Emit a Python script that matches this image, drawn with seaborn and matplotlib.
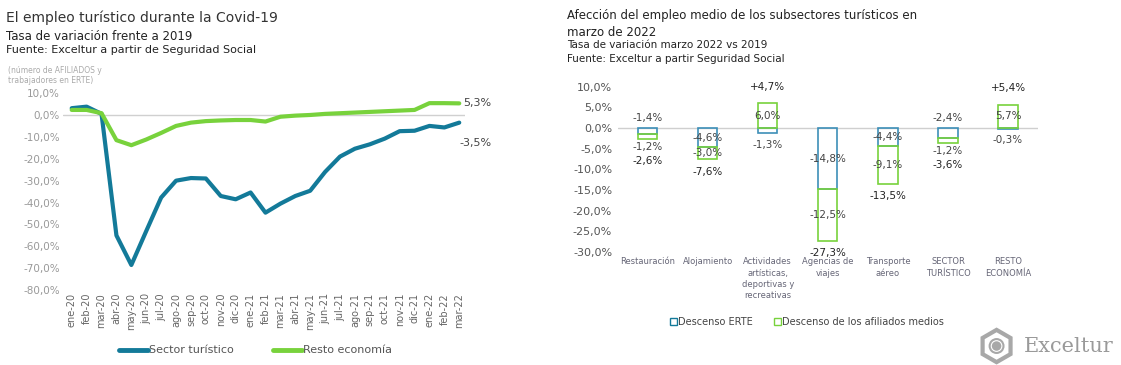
import numpy as np
import pandas as pd
import matplotlib.pyplot as plt
import seaborn as sns
from matplotlib.lines import Line2D
from matplotlib.patches import Patch, RegularPolygon, Circle

# Data - left chart (monthly variation vs 2019, %)
months = ["ene-20", "feb-20", "mar-20", "abr-20", "may-20", "jun-20", "jul-20",
          "ago-20", "sep-20", "oct-20", "nov-20", "dic-20", "ene-21", "feb-21",
          "mar-21", "abr-21", "may-21", "jun-21", "jul-21", "ago-21", "sep-21",
          "oct-21", "nov-21", "dic-21", "ene-22", "feb-22", "mar-22"]
sector_turistico = [3.1, 3.8, 0.5, -55.0, -68.5, -53.0, -37.7, -30.0, -28.8, -29.0,
                    -37.0, -38.5, -35.4, -44.6, -40.5, -37.0, -34.6, -26.0, -19.0,
                    -15.4, -13.4, -10.8, -7.4, -7.2, -5.0, -5.7, -3.5]
resto_economia = [2.3, 2.3, 0.8, -11.5, -13.8, -11.2, -8.2, -5.0, -3.5, -2.8, -2.5,
                  -2.3, -2.3, -3.0, -0.8, -0.3, 0.0, 0.5, 0.8, 1.1, 1.4, 1.7, 2.0,
                  2.3, 5.4, 5.4, 5.3]

# Data - right chart (marzo 2022 vs 2019, %)
subsectores = ["Restauración", "Alojamiento", "Actividades\nartísticas,\ndeportivas y\nrecreativas",
               "Agencias de\nviajes", "Transporte\naéreo", "SECTOR\nTURÍSTICO", "RESTO\nECONOMÍA"]
descenso_erte = [-1.4, -4.6, -1.3, -14.8, -4.4, -2.4, -0.3]
descenso_afiliados = [-1.2, -3.0, 6.0, -12.5, -9.1, -1.2, 5.7]
total = [-2.6, -7.6, 4.7, -27.3, -13.5, -3.6, 5.4]

BLUE = "#137a99"
GREEN = "#78d23c"
BAR_BLUE = "#3d8fb8"


def pct(v, signed=False):
    s = f"{v:+.1f}%" if signed else f"{v:.1f}%"
    return s.replace(".", ",")


sns.set_style("white")
plt.rcParams['font.family'] = ['DejaVu Sans']

fig = plt.figure(figsize=(11.21, 3.65), dpi=100)

# ---------------- Left chart ----------------
ax1 = fig.add_axes([0.056, 0.205, 0.359, 0.54])
x = np.arange(len(months))
sns.lineplot(x=x, y=sector_turistico, color=BLUE, linewidth=3, ax=ax1)
sns.lineplot(x=x, y=resto_economia, color=GREEN, linewidth=3, ax=ax1)
ax1.axhline(0, color="#d0d0d0", linewidth=1, zorder=0)
ax1.set_xlim(-0.6, 26.4)
ax1.set_ylim(-80, 10)
ax1.set_yticks(np.arange(-80, 11, 10))
ax1.set_yticklabels([pct(v) for v in np.arange(-80, 11, 10)], fontsize=7.5, color="#999999")
ax1.set_xticks(x)
ax1.set_xticklabels(months, rotation=90, fontsize=7, color="#666666")
ax1.tick_params(length=0, pad=2)
for s in ax1.spines.values():
    s.set_visible(False)

ax1.annotate(pct(resto_economia[-1]), (x[-1], resto_economia[-1]), xytext=(3, 0),
             textcoords="offset points", ha="left", va="center", fontsize=8, color="#444444")
ax1.annotate(pct(sector_turistico[-1]), (x[-1], sector_turistico[-1]), xytext=(0, -15),
             textcoords="offset points", ha="left", va="center", fontsize=8, color="#444444")

fig.legend(handles=[Line2D([], [], color=BLUE, lw=3.5, label="Sector turístico"),
                    Line2D([], [], color=GREEN, lw=3.5, label="Resto economía")],
           loc="center", bbox_to_anchor=(0.228, 0.04), ncol=2, frameon=False,
           fontsize=8, handlelength=2.6, handletextpad=0.1, columnspacing=3.5,
           labelcolor="#555555")

fig.text(0.005, 0.972, "El empleo turístico durante la Covid-19", fontsize=10, color="#333333", va="top")
fig.text(0.005, 0.918, "Tasa de variación frente a 2019", fontsize=8.5, color="#222222", va="top")
fig.text(0.005, 0.877, "Fuente: Exceltur a partir de Seguridad Social", fontsize=8, color="#222222", va="top")
fig.text(0.007, 0.82, "(número de AFILIADOS y\ntrabajadores en ERTE)", fontsize=5.5,
         color="#aaaaaa", va="top", linespacing=1.2)

# ---------------- Right chart ----------------
ax2 = fig.add_axes([0.551, 0.31, 0.375, 0.452])
pos = np.arange(len(subsectores))
sns.barplot(x=pos, y=descenso_erte, fill=False, color=BAR_BLUE, width=0.32,
            errorbar=None, linewidth=1.2, ax=ax2)
bottoms = [e if a < 0 else 0 for e, a in zip(descenso_erte, descenso_afiliados)]
ax2.bar(pos, descenso_afiliados, bottom=bottoms, width=0.32, facecolor="none",
        edgecolor=GREEN, linewidth=1.2)
ax2.axhline(0, color="#cfcfcf", linewidth=1, zorder=0)
ax2.set_xlim(-0.5, 6.5)
ax2.set_ylim(-30, 10)
yt = np.arange(-30, 11, 5)
ax2.set_yticks(yt)
ax2.set_yticklabels([pct(v) for v in yt], fontsize=8, color="#555555")
ax2.set_xticks(pos)
ax2.set_xticklabels(subsectores, fontsize=6, color="#666677", linespacing=1.3, va="top")
ax2.tick_params(length=0, pad=4)
for s in ax2.spines.values():
    s.set_visible(False)

for i in pos:
    e, a, t = descenso_erte[i], descenso_afiliados[i], total[i]
    low = min(0, e + min(a, 0))
    high = max(0, a)
    # ERTE label
    if abs(e) >= 3:
        ax2.text(i, e / 2, pct(e), ha="center", va="center", fontsize=7.5, color="#444444")
    elif a < 0:
        ax2.annotate(pct(e), (i, 0), xytext=(0, 7), textcoords="offset points",
                     ha="center", va="center", fontsize=7.5, color="#444444")
    else:
        ax2.annotate(pct(e), (i, e), xytext=(0, -8), textcoords="offset points",
                     ha="center", va="center", fontsize=7.5, color="#444444")
    # afiliados label
    below = False
    if abs(a) >= 3:
        ax2.text(i, bottoms[i] + a / 2, pct(a), ha="center", va="center", fontsize=7.5, color="#444444")
    else:
        below = True
        ax2.annotate(pct(a), (i, low), xytext=(0, -6), textcoords="offset points",
                     ha="center", va="center", fontsize=7.5, color="#444444")
    # total label
    if t < 0:
        off = -16 if below else -9
        ax2.annotate(pct(t), (i, low), xytext=(0, off), textcoords="offset points",
                     ha="center", va="center", fontsize=7.5, color="#222222")
    else:
        ax2.annotate(pct(t, signed=True), (i, high), xytext=(0, 12), textcoords="offset points",
                     ha="center", va="center", fontsize=7.5, color="#222222")

fig.legend(handles=[Patch(facecolor="none", edgecolor=BLUE, label="Descenso ERTE"),
                    Patch(facecolor="none", edgecolor=GREEN, label="Descenso de los afiliados medios")],
           loc="center", bbox_to_anchor=(0.72, 0.118), ncol=2, frameon=False,
           fontsize=7, handlelength=0.7, handleheight=0.7, handletextpad=0.1,
           columnspacing=2.2, labelcolor="#444444")

fig.text(0.506, 0.975, "Afección del empleo medio de los subsectores turísticos en\nmarzo de 2022",
         fontsize=8.5, color="#222222", va="top", linespacing=1.35)
fig.text(0.506, 0.89, "Tasa de variación marzo 2022 vs 2019", fontsize=7.5, color="#222222", va="top")
fig.text(0.506, 0.852, "Fuente: Exceltur a partir Seguridad Social", fontsize=7.5, color="#222222", va="top")

# Exceltur logo
logo = fig.add_axes([0.872, 0.0, 0.034, 0.104])
logo.set_xlim(-1, 1)
logo.set_ylim(-1, 1)
logo.set_aspect("equal")
logo.axis("off")
logo.add_patch(RegularPolygon((0, 0), 6, radius=0.85, orientation=0, facecolor="none",
                              edgecolor="#a8a8a8", linewidth=3))
logo.add_patch(Circle((0, 0), 0.42, facecolor="#a8a8a8", edgecolor="none"))
logo.add_patch(Circle((0, 0), 0.28, facecolor="none", edgecolor="white", linewidth=0.8))
fig.text(0.913, 0.05, "Exceltur", fontsize=15, color="#9a9a9a", va="center",
         family="DejaVu Serif")

fig.savefig("out.png", dpi=100)
